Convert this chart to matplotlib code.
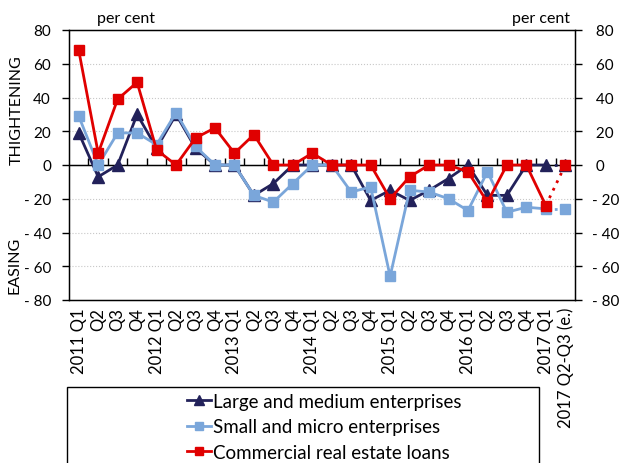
import matplotlib
matplotlib.use("Agg")
import matplotlib.pyplot as plt
from matplotlib.lines import Line2D
from matplotlib.patches import Rectangle

plt.rcParams['font.family'] = ['Lato', 'DejaVu Sans']

# Data (per cent, net balance)
quarters = ['2011 Q1', 'Q2', 'Q3', 'Q4',
            '2012 Q1', 'Q2', 'Q3', 'Q4',
            '2013 Q1', 'Q2', 'Q3', 'Q4',
            '2014 Q1', 'Q2', 'Q3', 'Q4',
            '2015 Q1', 'Q2', 'Q3', 'Q4',
            '2016 Q1', 'Q2', 'Q3', 'Q4',
            '2017 Q1', '2017 Q2-Q3 (e.)']
large_medium = [19, -7, 0, 30, 10, 30, 10, 0, 0, -18, -11, 0, 0, 0, 0, -21,
                -15, -21, -15, -8, 0, -18, -18, 0, 0, 0]
small_micro = [29, 0, 19, 19, 12, 31, 11, 0, 0, -18, -22, -11, 0, 0, -16, -13,
               -66, -15, -16, -20, -27, -4, -28, -25, -26, -26]
real_estate = [68, 7, 39, 49, 9, 0, 16, 22, 7, 18, 0, 0, 7, 0, 0, 0,
               -20, -7, 0, 0, -4, -22, 0, 0, -24, 0]
yticks = [80, 60, 40, 20, 0, -20, -40, -60, -80]
ytick_labels = ['80', '60', '40', '20', '0', '- 20', '- 40', '- 60', '- 80']

navy = '#22215a'
light = '#7aa6da'
red = '#e00000'

fig = plt.figure(figsize=(6.19, 4.64), dpi=100)
ax = fig.add_axes([69 / 619, 1 - 301 / 464, (575 - 69) / 619, (301 - 31) / 464])

x = list(range(len(quarters)))
n = len(x)
series = [(large_medium, navy, '^', 8.5, 'Large and medium enterprises'),
          (small_micro, light, 's', 7.5, 'Small and micro enterprises'),
          (real_estate, red, 's', 7.5, 'Commercial real estate loans')]

# gridlines (dotted) and solid zero line
for yv in yticks:
    if yv in (0, 80, -80):
        continue
    ax.axhline(yv, color='#c8c8c8', ls=':', lw=0.8, zorder=0)
ax.axhline(0, color='black', lw=1, zorder=1)

handles = []
for vals, col, mk, ms, lab in series:
    ax.plot(x[:n - 1], vals[:n - 1], color=col, lw=2, marker=mk, ms=ms,
            markeredgecolor=col, zorder=3)
    ax.plot(x[n - 2:], vals[n - 2:], color=col, lw=2, ls=(0, (1, 2)), zorder=2)
    ax.plot(x[n - 1:], vals[n - 1:], color=col, ls='none', marker=mk, ms=ms,
            markeredgecolor=col, zorder=3)
    handles.append(Line2D([], [], color=col, lw=2, marker=mk, ms=ms - 1.5, label=lab))

ax.set_xlim(-0.5, n - 0.5)
ax.set_ylim(-80, 80)
ax.set_yticks(yticks)
ax.set_yticklabels(ytick_labels, fontsize=11)
ax.tick_params(axis='y', direction='out', length=5, width=1, pad=8)

ax.set_xticks(x)
ax.set_xticklabels(quarters, rotation=90, fontsize=12)
ax.tick_params(axis='x', length=0, pad=5)

for s in ax.spines.values():
    s.set_color('black')
    s.set_linewidth(1)

# category ticks on the zero line
sec = ax.secondary_xaxis(0.5)
sec.set_xticks([i + 0.5 for i in x[:-1]])
sec.set_xticklabels([])
sec.tick_params(direction='out', length=5, width=1, color='black')
sec.spines['bottom'].set_linewidth(1)

# right axis: left-aligned, positives padded with a space
ax2 = ax.twinx()
ax2.set_ylim(-80, 80)
ax2.set_yticks(yticks)
ax2.set_yticklabels([lb if lb.startswith('-') else ' ' + lb for lb in ytick_labels],
                    fontsize=11)
ax2.tick_params(axis='y', direction='out', length=5, width=1, pad=7)

fig.text(97 / 619, 1 - 19 / 464, 'per cent', fontsize=11.5, va='center', ha='left')
fig.text(570 / 619, 1 - 19 / 464, 'per cent', fontsize=11.5, va='center', ha='right')
fig.text(17 / 619, 1 - 110 / 464, 'THIGHTENING', fontsize=11.5, rotation=90,
         va='center', ha='center')
fig.text(15 / 619, 1 - 265 / 464, 'EASING', fontsize=11.5, rotation=90,
         va='center', ha='center')

# legend box (runs past the bottom edge)
fig.patches.append(Rectangle((67 / 619, -0.05), (539 - 67) / 619, 1 - 388 / 464 + 0.05,
                             transform=fig.transFigure, fill=False,
                             edgecolor='black', lw=1))
fig.legend(handles=handles, loc='upper left', bbox_to_anchor=(183 / 619, 1 - 390 / 464),
           frameon=False, fontsize=13.5, handlelength=1.3, handletextpad=0.1,
           labelspacing=0.45, borderaxespad=0, borderpad=0.2)

fig.savefig('out.png', dpi=100)
